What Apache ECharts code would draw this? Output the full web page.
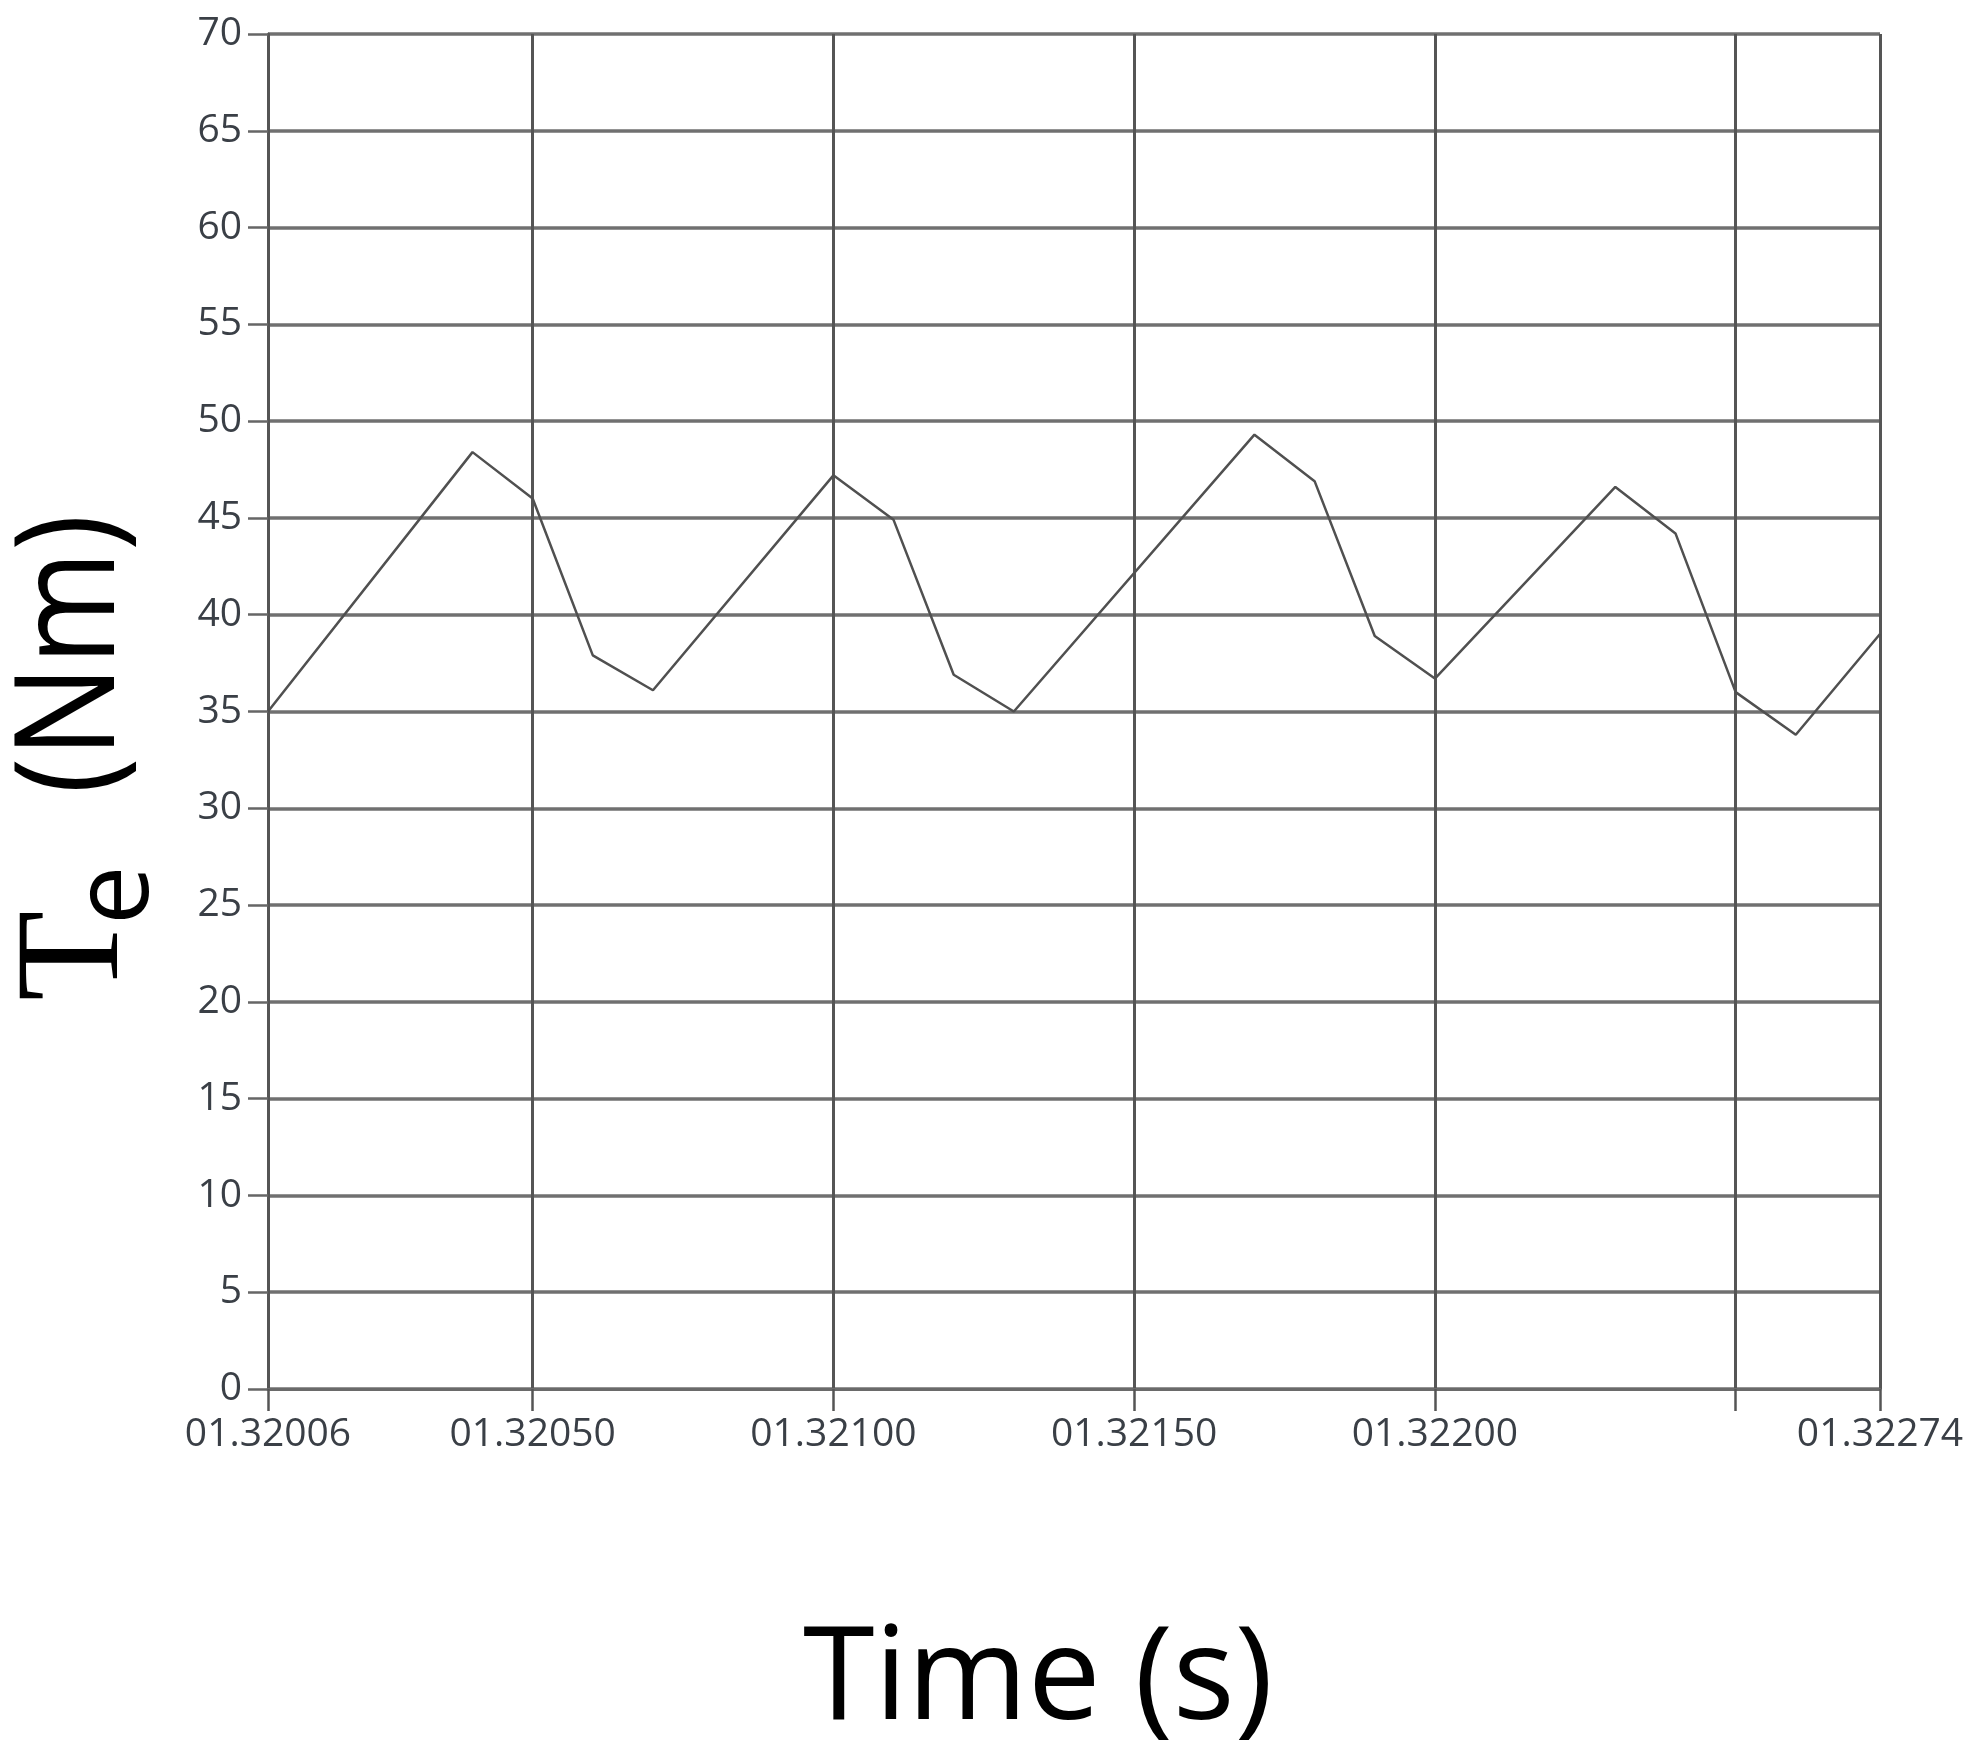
<!DOCTYPE html>
<html>
<head>
<meta charset="utf-8">
<script src="https://cdn.jsdelivr.net/npm/echarts@6/dist/echarts.min.js"></script>
<style>
html,body{margin:0;padding:0;background:#fff;}
#chart{width:1971px;height:1754px;}
</style>
</head>
<body>
<div id="chart"></div>
<script>
// Data
const timeValues = [1.32006, 1.32040, 1.32050, 1.32060, 1.32070, 1.32100, 1.32110, 1.32120, 1.32130,
                    1.32170, 1.32180, 1.32190, 1.32200, 1.32220, 1.32230, 1.32240, 1.32250, 1.32260, 1.32274];
const torqueValues = [35.0, 48.4, 46.0, 37.9, 36.1, 47.2, 44.9, 36.9, 35.0,
                      49.3, 46.9, 38.9, 36.7, 43.3, 46.6, 44.2, 36.0, 33.8, 39.0];
const xTickValues = [1.32006, 1.3205, 1.321, 1.3215, 1.322, 1.3225, 1.32274];
const xLabelValues = [1.32006, 1.3205, 1.321, 1.3215, 1.322, 1.32274];
const xTitle = 'Time (s)';
const yTitleMain = 'T';
const yTitleSub = 'e';
const yTitleUnit = '(Nm)';

const chart = echarts.init(document.getElementById('chart'));
const seriesData = timeValues.map((t, i) => [t, torqueValues[i]]);

chart.setOption({
  animation: false,
  backgroundColor: '#ffffff',
  grid: { left: 268, top: 34, right: 91, bottom: 365, containLabel: false },
  xAxis: {
    type: 'value',
    min: 1.32006,
    max: 1.32274,
    name: xTitle,
    nameLocation: 'middle',
    nameGap: 228,
    nameTextStyle: { fontFamily: 'Open Sans', fontSize: 130, color: '#000', padding: [0, 72, 0, 0] },
    axisLine: { show: true, lineStyle: { color: '#6a6a6a', width: 3 } },
    axisTick: { show: true, length: 22, customValues: xTickValues, lineStyle: { color: '#555', width: 2.5 } },
    axisLabel: {
      customValues: xLabelValues,
      margin: 26,
      fontFamily: 'Open Sans',
      fontSize: 39,
      color: '#3a3f46',
      formatter: v => '0' + Number(v).toFixed(5)
    },
    splitLine: { show: true, lineStyle: { color: '#555', width: 3 } }
  },
  yAxis: {
    type: 'value',
    min: 0,
    max: 70,
    interval: 5,
    axisLine: { show: true, lineStyle: { color: '#555', width: 3 } },
    axisTick: { show: true, length: 20, lineStyle: { color: '#666', width: 2.5 } },
    axisLabel: { margin: 26, fontFamily: 'Open Sans', fontSize: 39, color: '#3a3f46' },
    splitLine: { show: true, lineStyle: { color: '#707070', width: 3.5 } }
  },
  series: [{
    type: 'line',
    data: seriesData,
    showSymbol: false,
    symbol: 'none',
    lineStyle: { color: '#505050', width: 2.5 },
    z: 5
  }],
  graphic: [{
    type: 'group',
    x: 128,
    y: 1001,
    rotation: Math.PI / 2,
    children: [
      { type: 'text', x: 0, y: -50,
        style: { text: yTitleMain, font: '148px "Liberation Serif"', fill: '#000', textAlign: 'left', textVerticalAlign: 'middle' } },
      { type: 'text', x: 76, y: -10,
        style: { text: yTitleSub, font: '106px "Open Sans"', fill: '#000', textAlign: 'left', textVerticalAlign: 'middle' } },
      { type: 'text', x: 207, y: -54, scaleX: 0.88,
        style: { text: yTitleUnit, font: '140px "Open Sans"', fill: '#000', textAlign: 'left', textVerticalAlign: 'middle' } }
    ]
  }]
});
</script>
</body>
</html>
